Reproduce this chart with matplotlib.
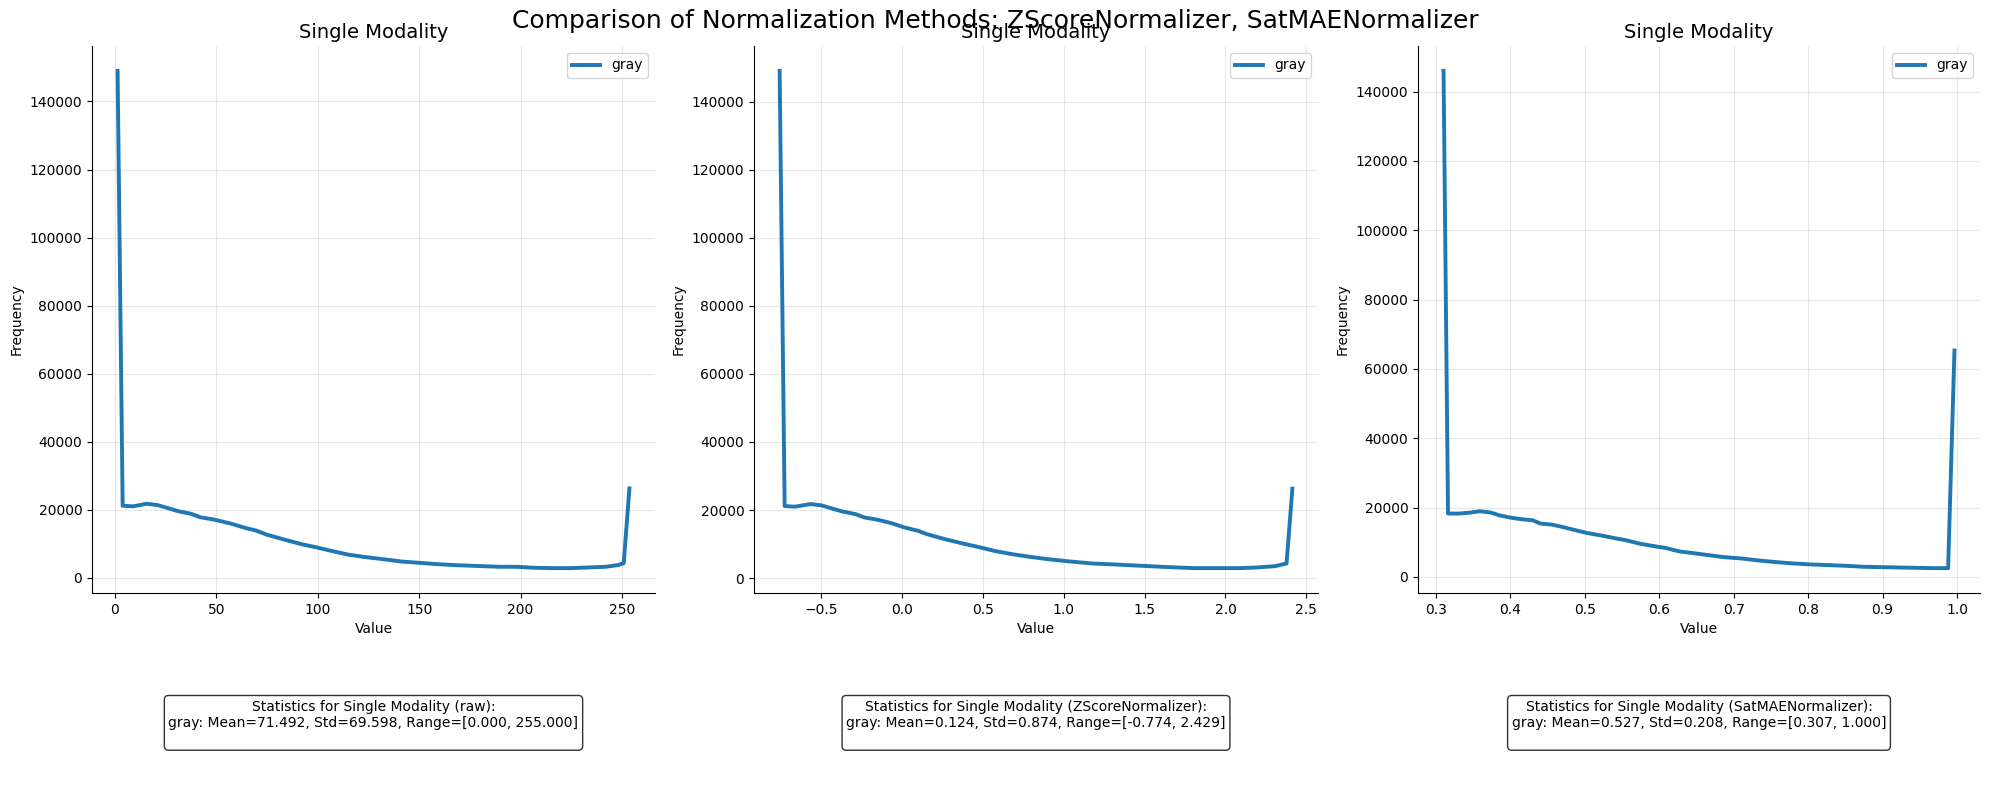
import matplotlib
matplotlib.use("Agg")
import matplotlib.pyplot as plt

# ---- data ----
raw_x = [1.3, 3.8, 9, 15.6, 21, 25.5, 31, 37.6, 42, 48.6, 57.4, 64, 69.5, 75, 83.8, 92.6, 99,
         105.8, 114.6, 123.5, 132, 141, 150, 158.7, 167.5, 180.7, 189.5, 198, 207, 216,
         224.7, 233.5, 242, 248, 250.9, 253.7]
raw_y = [149000, 21180, 21000, 21760, 21370, 20600, 19600, 18800, 17800, 17150, 15900, 14700,
         13900, 12650, 11180, 9800, 9000, 8040, 6860, 6080, 5490, 4800, 4410, 4020, 3730,
         3430, 3240, 3240, 2940, 2840, 2840, 3040, 3240, 3730, 4300, 26270]

z_x = [-0.758, -0.727, -0.664, -0.567, -0.498, -0.429, -0.373, -0.29, -0.235, -0.152, -0.069,
       0.014, 0.097, 0.152, 0.263, 0.373, 0.484, 0.567, 0.678, 0.788, 0.899, 1.037, 1.175,
       1.314, 1.48, 1.646, 1.811, 1.977, 2.088, 2.198, 2.309, 2.378, 2.414]
z_y = [149000, 21180, 20980, 21760, 21370, 20390, 19610, 18820, 17840, 17160, 16180, 14900,
       13920, 12940, 11470, 10200, 9020, 8040, 7060, 6270, 5590, 4900, 4310, 4020, 3630,
       3240, 2940, 2940, 2940, 3140, 3530, 4310, 26270]

sat_x = [0.3105, 0.3165, 0.332, 0.347, 0.359, 0.374, 0.385, 0.4, 0.415, 0.43, 0.441, 0.456,
         0.474, 0.488, 0.503, 0.521, 0.539, 0.556, 0.574, 0.592, 0.609, 0.627, 0.645, 0.662,
         0.686, 0.71, 0.733, 0.757, 0.78, 0.804, 0.827, 0.85, 0.875, 0.898, 0.922, 0.945,
         0.969, 0.988, 0.9965]
sat_y = [146000, 18260, 18260, 18550, 18940, 18550, 17780, 17100, 16620, 16330, 15360, 15070,
         14200, 13430, 12660, 11980, 11210, 10530, 9570, 8890, 8310, 7340, 6860, 6380, 5700,
         5310, 4730, 4250, 3860, 3570, 3380, 3190, 2900, 2800, 2700, 2600, 2510, 2510, 65300]

methods = ["raw", "ZScoreNormalizer", "SatMAENormalizer"]
series = [(raw_x, raw_y), (z_x, z_y), (sat_x, sat_y)]
stats = [
    "gray: Mean=71.492, Std=69.598, Range=[0.000, 255.000]",
    "gray: Mean=0.124, Std=0.874, Range=[-0.774, 2.429]",
    "gray: Mean=0.527, Std=0.208, Range=[0.307, 1.000]",
]
x_ticks = [
    [0, 50, 100, 150, 200, 250],
    [-0.5, 0.0, 0.5, 1.0, 1.5, 2.0, 2.5],
    [0.3, 0.4, 0.5, 0.6, 0.7, 0.8, 0.9, 1.0],
]
y_ticks = [0, 20000, 40000, 60000, 80000, 100000, 120000, 140000]

W, H = 1990, 801
fig = plt.figure(figsize=(W / 100, H / 100), dpi=100)
lefts = [92, 754, 1418]
widths = [563, 564, 562]
bottom = (H - 593) / H
height = 547 / H

for i in range(3):
    ax = fig.add_axes([lefts[i] / W, bottom, widths[i] / W, height])
    xs, ys = series[i]
    ax.plot(xs, ys, color="#1f77b4", linewidth=2.8, label="gray")
    ax.set_title("Single Modality", fontsize=14)
    ax.set_xlabel("Value")
    ax.set_ylabel("Frequency")
    ax.set_xticks(x_ticks[i])
    ax.set_yticks(y_ticks)
    ax.grid(True, alpha=0.3)
    ax.spines["top"].set_visible(False)
    ax.spines["right"].set_visible(False)
    ax.legend(loc="upper right")
    ax.text(0.5, -0.195,
            f"Statistics for Single Modality ({methods[i]}):\n{stats[i]}\n",
            transform=ax.transAxes, ha="center", va="top", fontsize=10,
            bbox=dict(boxstyle="round", facecolor="white", alpha=0.8))

fig.suptitle("Comparison of Normalization Methods: ZScoreNormalizer, SatMAENormalizer",
             fontsize=18, y=1 - 21 / H, va="center")

fig.savefig("out.png", dpi=100)
